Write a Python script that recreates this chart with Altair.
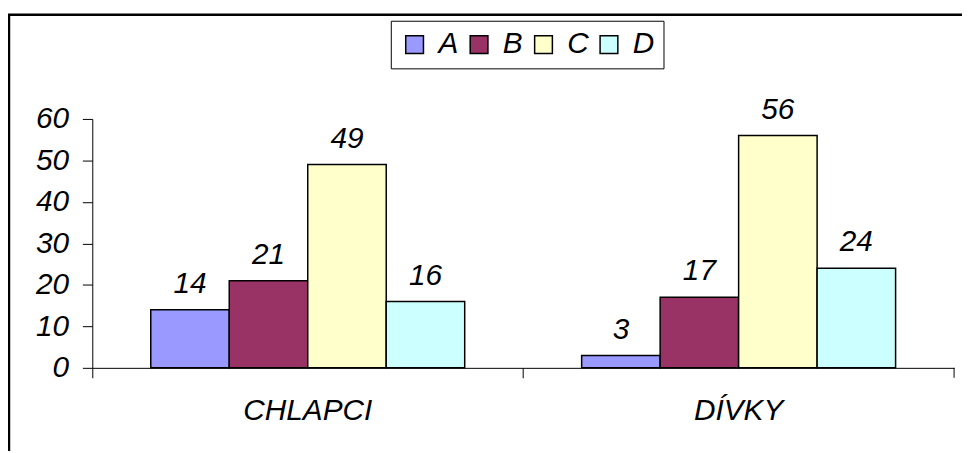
import altair as alt
import pandas as pd

categories = ["CHLAPCI", "DÍVKY"]
series = ["A", "B", "C", "D"]
chlapci_values = [14, 21, 49, 16]
divky_values = [3, 17, 56, 24]
colors = ["#9999FF", "#993366", "#FFFFCC", "#CCFFFF"]
y_ticks = [0, 10, 20, 30, 40, 50, 60]

rows = []
for cat, vals in zip(categories, [chlapci_values, divky_values]):
    for s, v in zip(series, vals):
        rows.append({"kategorie": cat, "skupina": s, "hodnota": v})
df = pd.DataFrame(rows)

FONT = "Liberation Sans, Arial, sans-serif"
FS = 30
W, H = 869, 251

base = alt.Chart(df).encode(
    x=alt.X("kategorie:N", sort=categories,
            scale=alt.Scale(paddingInner=0, paddingOuter=0),
            axis=alt.Axis(title=None, labelAngle=0, tickSize=10, bandPosition=0,
                          domainColor="black", tickColor="black", labelColor="black",
                          labelFont=FONT, labelFontSize=FS, labelFontStyle="italic",
                          labelFontWeight="normal", labelPadding=18, grid=False)),
    xOffset=alt.XOffset("skupina:N", sort=series,
                        scale=alt.Scale(paddingInner=0, paddingOuter=0.745)),
    y=alt.Y("hodnota:Q", scale=alt.Scale(domain=[0, 60], nice=False),
            axis=alt.Axis(title=None, values=y_ticks, tickSize=10, labelPadding=14,
                          domainColor="black", tickColor="black", labelColor="black",
                          labelFont=FONT, labelFontSize=FS, labelFontStyle="italic",
                          grid=False)),
)

bars = base.mark_bar(stroke="black", strokeWidth=1.5).encode(
    color=alt.Color("skupina:N", sort=series,
                    scale=alt.Scale(domain=series, range=colors),
                    legend=alt.Legend(title=None, orient="none", legendX=301, legendY=-99,
                                      direction="horizontal", strokeColor="black",
                                      fillColor="white", padding=9,
                                      symbolType="square", symbolSize=320,
                                      symbolStrokeColor="black", symbolStrokeWidth=1.5,
                                      symbolOpacity=1,
                                      labelFont=FONT, labelFontSize=FS,
                                      labelFontStyle="italic", labelColor="black",
                                      labelOffset=9, columnPadding=5))
)

labels = base.mark_text(dy=-17, baseline="alphabetic", align="center", font=FONT,
                        fontSize=FS, fontStyle="italic", color="black").encode(
    text=alt.Text("hodnota:Q")
)

border = alt.Chart(alt.Data(values=[{}])).mark_rect(
    fillOpacity=0, stroke="black", strokeWidth=2.5
).encode(x=alt.value(-84), x2=alt.value(W + 40), y=alt.value(-105), y2=alt.value(H + 120))

end_tick = alt.Chart(alt.Data(values=[{}])).mark_rule(color="black").encode(
    x=alt.value(W), y=alt.value(H), y2=alt.value(H + 10)
)

chart = alt.layer(border, bars, labels, end_tick).properties(
    width=W, height=H,
    padding={"left": 85, "top": 110, "right": 8, "bottom": 82},
    autosize=alt.AutoSizeParams(type="none"),
    background="white",
).configure_view(strokeWidth=0)

chart.save("out.html", embed_options={"renderer": "svg", "actions": False})
